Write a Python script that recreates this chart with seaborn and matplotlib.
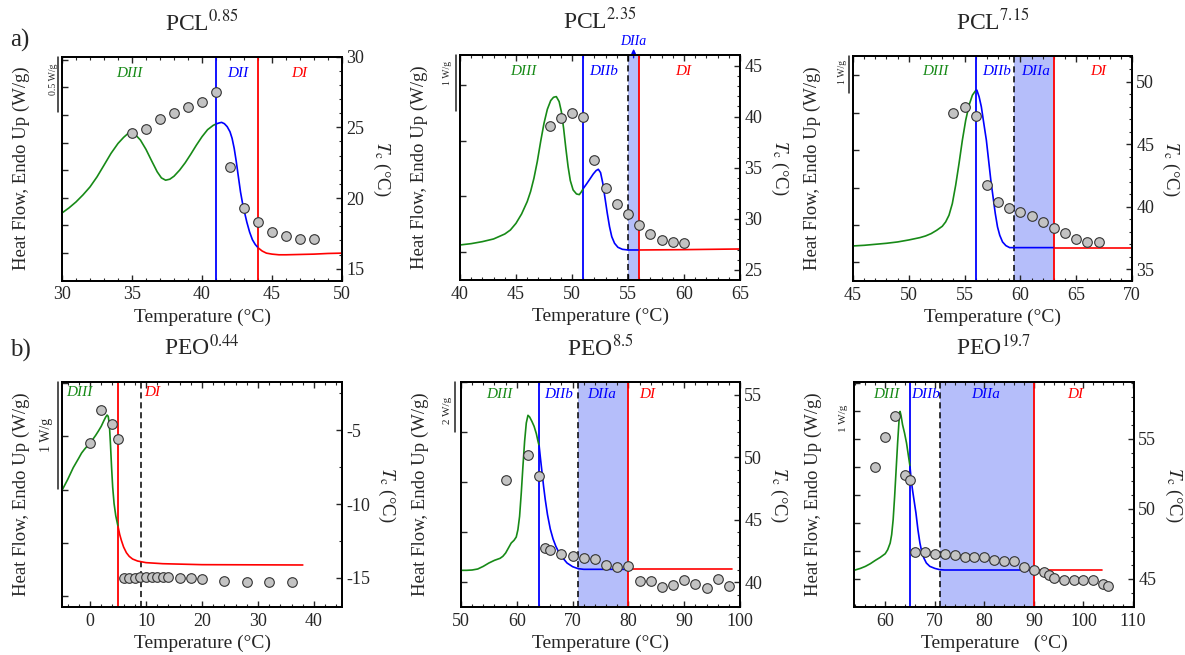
import numpy as np
import seaborn as sns
import matplotlib.pyplot as plt
from matplotlib.ticker import MultipleLocator
from matplotlib.transforms import blended_transform_factory

GREEN = '#178a17'
BLUE = '#0000ff'
RED = '#ff0000'
SHADE = '#b5befa'

# ---------------- data ----------------
# PCL 0.85
pcl085_t = [30, 30.5, 31, 31.5, 32, 32.5, 33, 33.5, 34, 34.4, 34.8, 35.2, 35.6, 36.0, 36.4, 36.8, 37.1,
            37.4, 37.7, 38.0, 38.4, 38.8, 39.2, 39.6, 40.0, 40.4, 40.8, 41.0, 41.2, 41.4, 41.6, 41.8,
            42.0, 42.15, 42.3, 42.45, 42.6, 42.75, 42.9, 43.05, 43.2, 43.4, 43.6, 43.8, 44.0, 44.3,
            44.6, 45.0, 45.5, 46, 47, 48, 49, 50]
pcl085_hf = [0.612, 0.658, 0.712, 0.776, 0.848, 0.939, 1.045, 1.152, 1.242, 1.297, 1.342, 1.327, 1.273,
             1.188, 1.085, 0.985, 0.930, 0.909, 0.918, 0.945, 1.0, 1.067, 1.145, 1.227, 1.303, 1.367,
             1.406, 1.418, 1.427, 1.433, 1.421, 1.394, 1.348, 1.288, 1.197, 1.076, 0.939, 0.803, 0.697,
             0.612, 0.530, 0.439, 0.370, 0.327, 0.297, 0.267, 0.248, 0.239, 0.233, 0.233, 0.236, 0.239,
             0.245, 0.248]
pcl085_tc_t = [35, 36, 37, 38, 39, 40, 41, 42, 43, 44, 45, 46, 47, 48]
pcl085_tc = [24.57, 24.87, 25.58, 25.98, 26.46, 26.79, 27.47, 22.2, 19.3, 18.3, 17.6, 17.3, 17.1, 17.1]
pcl085_bounds = [41, 44]

# PCL 2.35
pcl235_t = [40, 41, 42, 43, 44, 44.5, 45, 45.5, 46, 46.3, 46.6, 46.9, 47.2, 47.5, 47.8, 48.1, 48.35,
            48.6, 48.85, 49.05, 49.25, 49.45, 49.65, 49.85, 50.1, 50.4, 50.65, 50.85, 51, 51.3, 51.6,
            51.9, 52.15, 52.35, 52.55, 52.75, 52.95, 53.15, 53.35, 53.55, 53.8, 54.1, 54.5, 55, 56, 60, 65]
pcl235_hf = [0.629, 0.653, 0.689, 0.737, 0.826, 0.898, 1.018, 1.186, 1.407, 1.587, 1.826, 2.126, 2.485,
             2.814, 3.066, 3.222, 3.281, 3.293, 3.204, 3.024, 2.725, 2.365, 2.036, 1.784, 1.617, 1.545,
             1.533, 1.587, 1.641, 1.725, 1.814, 1.904, 1.964, 1.988, 1.928, 1.737, 1.467, 1.198, 0.958,
             0.778, 0.659, 0.587, 0.551, 0.539, 0.539, 0.545, 0.557]
pcl235_tc_t = [48, 49, 50, 51, 52, 53, 54, 55, 56, 57, 58, 59, 60]
pcl235_tc = [39.13, 39.85, 40.33, 39.94, 35.77, 33.03, 31.46, 30.45, 29.44, 28.56, 27.9, 27.74, 27.67]
pcl235_bounds = [51, 56]
pcl235_dashed = 55

# PCL 7.15
pcl715_t = [45, 46, 47, 48, 49, 50, 51, 51.5, 52, 52.5, 53, 53.3, 53.6, 53.9, 54.2, 54.5, 54.8, 55.1,
            55.4, 55.7, 56, 56.1, 56.3, 56.5, 56.7, 56.95, 57.15, 57.35, 57.55, 57.75, 57.95, 58.15,
            58.4, 58.7, 59.04, 60, 63, 70]
pcl715_hf = [0.938, 0.955, 0.982, 1.009, 1.045, 1.098, 1.161, 1.205, 1.268, 1.357, 1.464, 1.580, 1.759,
             2.071, 2.563, 3.143, 3.768, 4.304, 4.705, 4.973, 5.098, 5.107, 4.929, 4.661, 4.259, 3.768,
             3.232, 2.696, 2.25, 1.804, 1.446, 1.223, 1.045, 0.946, 0.893, 0.893, 0.893, 0.893]
pcl715_tc_t = [54, 55, 56, 57, 58, 59, 60, 61, 62, 63, 64, 65, 66, 67]
pcl715_tc = [47.52, 47.94, 47.25, 41.73, 40.39, 39.94, 39.59, 39.24, 38.82, 38.34, 37.91, 37.43, 37.22, 37.22]
pcl715_bounds = [56, 63]
pcl715_dashed = 59.45

# PEO 0.44
peo044_t = [-5, -4, -3, -2, -1.5, -1, -0.5, 0, 0.5, 1, 1.5, 2, 2.5, 2.8, 3.05, 3.25, 3.45, 3.65, 3.85,
            4.05, 4.3, 4.6, 5, 5.3, 5.6, 6, 6.5, 7, 7.6, 8.5, 10, 13, 20, 38]
peo044_hf = [1.094, 1.194, 1.306, 1.397, 1.444, 1.478, 1.509, 1.541, 1.572, 1.609, 1.65, 1.694, 1.75,
             1.781, 1.8, 1.788, 1.719, 1.531, 1.313, 1.125, 0.969, 0.856, 0.756, 0.681, 0.625, 0.5625,
             0.509, 0.475, 0.45, 0.431, 0.416, 0.406, 0.397, 0.394]
peo044_tc_t = [0, 2, 4, 5, 6, 7, 8, 9, 10, 11, 12, 13, 14, 16, 18, 20, 24, 28, 32, 36]
peo044_tc = [-5.84, -3.6, -4.55, -5.61, -15.0, -15.0, -15.0, -14.98, -14.95, -14.95, -14.95, -14.95,
             -14.95, -15.0, -15.05, -15.1, -15.2, -15.3, -15.3, -15.3]
peo044_bounds = [5]
peo044_dashed = 9.1

# PEO 8.5
peo85_t = [50, 51, 52, 53, 54, 55, 56, 57, 57.5, 58, 58.5, 59, 59.5, 59.9, 60.2, 60.5, 60.8, 61.1, 61.4,
           61.7, 62, 62.3, 62.7, 63.1, 63.5, 63.8, 64, 64.2, 64.5, 64.8, 65.1, 65.5, 66, 66.5, 67, 67.5,
           68, 69, 70, 71, 72, 80, 98.6]
peo85_hf = [0.467, 0.467, 0.48, 0.52, 0.627, 0.76, 0.867, 0.947, 1.027, 1.16, 1.36, 1.56, 1.667, 1.8,
            2.093, 2.627, 3.56, 4.627, 5.627, 6.36, 6.667, 6.6, 6.427, 6.227, 5.933, 5.627, 5.453, 5.027,
            4.427, 3.827, 3.293, 2.693, 2.12, 1.72, 1.427, 1.2, 1.027, 0.76, 0.613, 0.533, 0.507, 0.507,
            0.507]
peo85_tc_t = [58, 62, 64, 65, 66, 68, 70, 72, 74, 76, 78, 80, 82, 84, 86, 88, 90, 92, 94, 96, 98]
peo85_tc = [48.19, 50.17, 48.46, 42.72, 42.54, 42.24, 42.11, 41.95, 41.84, 41.39, 41.2, 41.28, 40.08,
            40.08, 39.57, 39.79, 40.19, 39.87, 39.52, 40.24, 39.71]
peo85_bounds = [64, 80]
peo85_dashed = 71

# PEO 19.7
peo197_t = [53.7, 55, 56, 57, 58, 59, 60, 60.5, 61, 61.3, 61.6, 61.9, 62.2, 62.5, 62.8, 63.0, 63.2, 63.5,
            63.9, 64.3, 64.7, 65, 65.2, 65.5, 65.8, 66.2, 66.6, 67, 67.4, 67.8, 68.3, 69, 70, 71, 72, 90,
            103.8]
peo197_hf = [0.155, 0.190, 0.226, 0.274, 0.333, 0.387, 0.452, 0.524, 0.643, 0.792, 1.06, 1.476, 1.952,
             2.429, 2.845, 2.994, 2.917, 2.756, 2.607, 2.429, 2.19, 2.012, 1.804, 1.595, 1.417, 1.179,
             0.881, 0.643, 0.476, 0.375, 0.286, 0.226, 0.19, 0.167, 0.161, 0.161, 0.161]
peo197_tc_t = [58, 60, 62, 64, 65, 66, 68, 70, 72, 74, 76, 78, 80, 82, 84, 86, 88, 90, 92, 93, 94, 96,
               98, 100, 102, 104, 105]
peo197_tc = [52.98, 55.1, 56.59, 52.39, 52.03, 46.9, 46.92, 46.8, 46.76, 46.71, 46.57, 46.57, 46.54,
             46.38, 46.28, 46.31, 45.86, 45.67, 45.48, 45.31, 45.1, 44.95, 44.95, 44.95, 44.95, 44.67, 44.48]
peo197_bounds = [65, 90]
peo197_dashed = 71

W, H = 1185, 655


def px_rect(l, t, r, b):
    return [l / W, 1 - b / H, (r - l) / W, (b - t) / H]


panels = [
    dict(title='PCL$^{0.85}$', rect=px_rect(62, 56.5, 342, 280.5), t=pcl085_t, hf=pcl085_hf,
         tc_t=pcl085_tc_t, tc=pcl085_tc, bounds=pcl085_bounds, colors=[GREEN, BLUE, RED],
         dashed=None, shade=None, xlim=(30, 50), xmaj=5, xmin=1,
         hflim=(0, 2.03), hfticks=(0.25, 0.25), tclim=(14.17, 30), tcmin=1,
         bar=(-0.014, 0.5, '0.5 W/g', -0.029, 0.90, 7),
         labels=[('DIII', 34.8, GREEN), ('DII', 42.56, BLUE), ('DI', 46.97, RED)], label_y=0.925),
    dict(title='PCL$^{2.35}$', rect=px_rect(460, 55, 740, 280), t=pcl235_t, hf=pcl235_hf,
         tc_t=pcl235_tc_t, tc=pcl235_tc, bounds=pcl235_bounds, colors=[GREEN, BLUE, RED],
         dashed=pcl235_dashed, shade=(pcl235_dashed, pcl235_bounds[1]), xlim=(40, 65), xmaj=5, xmin=1,
         hflim=(0, 4.04), hfticks=(0.5, 1), tclim=(24.02, 46.04), tcmin=1,
         bar=(-0.015, 1, '1 W/g', -0.043, 0.92, 7),
         labels=[('DIII', 45.65, GREEN), ('DIIb', 52.86, BLUE), ('DI', 59.94, RED)], label_y=0.926),
    dict(title='PCL$^{7.15}$', rect=px_rect(853, 56, 1132, 281), t=pcl715_t, hf=pcl715_hf,
         tc_t=pcl715_tc_t, tc=pcl715_tc, bounds=pcl715_bounds, colors=[GREEN, BLUE, RED],
         dashed=pcl715_dashed, shade=(pcl715_dashed, pcl715_bounds[1]), xlim=(45, 70), xmaj=5, xmin=1,
         hflim=(0, 6.02), hfticks=(0.5, 1), tclim=(34.07, 52.05), tcmin=1,
         bar=(-0.014, 1, '1 W/g', -0.039, 0.93, 7),
         labels=[('DIII', 52.4, GREEN), ('DIIb', 57.85, BLUE), ('DIIa', 61.4, BLUE), ('DI', 66.95, RED)],
         label_y=0.93),
    dict(title='PEO$^{0.44}$', rect=px_rect(62, 382, 342, 607), t=peo044_t, hf=peo044_hf,
         tc_t=peo044_tc_t, tc=peo044_tc, bounds=peo044_bounds, colors=[GREEN, RED],
         dashed=peo044_dashed, shade=None, xlim=(-5, 45), xmaj=10, xmin=2,
         hflim=(0, 2.11), hfticks=(0.1, 0.5), tclim=(-16.99, -1.72), tcmin=2.5,
         bar=(-0.014, 1, '1 W/g', -0.054, 0.764, 10), tclabel_x=1.16,
         labels=[('DIII', -1.9, GREEN), ('DI', 11.07, RED)], label_y=0.955),
    dict(title='PEO$^{8.5}$', rect=px_rect(461, 382, 740, 607), t=peo85_t, hf=peo85_hf,
         tc_t=peo85_tc_t, tc=peo85_tc, bounds=peo85_bounds, colors=[GREEN, BLUE, RED],
         dashed=peo85_dashed, shade=(peo85_dashed, peo85_bounds[1]), xlim=(50, 100), xmaj=10, xmin=2,
         hflim=(-1.0, 8.0), hfticks=(0, 2), tclim=(38.0, 56.01), tcmin=1,
         bar=(-0.022, 2, '2 W/g', -0.047, 0.876, 8),
         labels=[('DIII', 56.9, GREEN), ('DIIb', 67.5, BLUE), ('DIIa', 75.2, BLUE), ('DI', 83.3, RED)],
         label_y=0.944),
    dict(title='PEO$^{19.7}$', rect=px_rect(854, 382, 1134, 607), t=peo197_t, hf=peo197_hf,
         tc_t=peo197_tc_t, tc=peo197_tc, bounds=peo197_bounds, colors=[GREEN, BLUE, RED],
         dashed=peo197_dashed, shade=(peo197_dashed, peo197_bounds[1]), xlim=(53.7, 110.2), xmaj=10, xmin=2,
         hflim=(-0.5, 3.52), hfticks=(0, 0.5), tclim=(43.0, 59.04), tcmin=1,
         bar=(None, None, '1 W/g', -0.039, 0.84, 8), xlabel='Temperature   (°C)',
         labels=[('DIII', 60.3, GREEN), ('DIIb', 68.1, BLUE), ('DIIa', 80.2, BLUE), ('DI', 98.4, RED)],
         label_y=0.944),
]


def segments(t, hf, bounds):
    t = np.asarray(t, float)
    hf = np.asarray(hf, float)
    edges = [-np.inf] + list(bounds) + [np.inf]
    out = []
    for lo, hi in zip(edges[:-1], edges[1:]):
        m = (t >= lo) & (t <= hi)
        out.append((t[m], hf[m]))
    return out


def draw_panel(fig, p):
    ax = fig.add_axes(p['rect'])
    ax2 = ax.twinx()

    if p['shade'] is not None:
        ax.axvspan(p['shade'][0], p['shade'][1], color=SHADE, lw=0, zorder=0)
    for (xs, ys), c in zip(segments(p['t'], p['hf'], p['bounds']), p['colors']):
        sns.lineplot(x=xs, y=ys, ax=ax, color=c, lw=1.2, estimator=None, sort=False, zorder=3)
    for b, c in zip(p['bounds'], p['colors'][1:]):
        ax.axvline(b, color=c, lw=1.3, zorder=2)
    if p['dashed'] is not None:
        ax.axvline(p['dashed'], color='k', lw=1.1, ls=(0, (4, 2.5)), zorder=2)

    sns.scatterplot(x=p['tc_t'], y=p['tc'], ax=ax2, s=48, color='#c3c3c3',
                    edgecolor='#333333', linewidth=0.8, zorder=5)

    ax.set_xlim(*p['xlim'])
    ax.set_ylim(*p['hflim'])
    ax2.set_ylim(*p['tclim'])

    ax.xaxis.set_major_locator(MultipleLocator(p['xmaj']))
    ax.xaxis.set_minor_locator(MultipleLocator(p['xmin']))
    start, step = p['hfticks']
    ax.set_yticks(np.arange(start, p['hflim'][1] + 1e-6, step))
    ax.set_yticklabels([])
    ax2.yaxis.set_major_locator(MultipleLocator(5))
    ax2.yaxis.set_minor_locator(MultipleLocator(p['tcmin']))

    ax.tick_params(axis='x', which='both', direction='in', top=True, bottom=True, labelsize=13, pad=4)
    ax.tick_params(axis='x', which='major', length=4, width=1)
    ax.tick_params(axis='x', which='minor', length=2, width=0.8)
    ax.tick_params(axis='y', which='both', direction='in', left=True, right=False, length=4, width=1)
    ax2.tick_params(axis='y', which='both', direction='in', right=True, left=False, labelsize=13, pad=3)
    ax2.tick_params(axis='y', which='major', length=4, width=1)
    ax2.tick_params(axis='y', which='minor', length=2, width=0.8)

    for a in (ax, ax2):
        for s in a.spines.values():
            s.set_linewidth(1.3)
            s.set_color('black')

    ax.set_xlabel(p.get('xlabel', 'Temperature (°C)'), fontsize=14, labelpad=4)
    ax.set_ylabel('Heat Flow, Endo Up (W/g)', fontsize=13.5)
    ax.yaxis.set_label_coords(-0.115, 0.5)
    ax2.set_ylabel(r'$T_\mathrm{c}$ (°C)', fontsize=13.5, rotation=270, va='center')
    ax2.yaxis.set_label_coords(p.get('tclabel_x', 1.14), 0.5)
    ax.set_title(p['title'], fontsize=17, pad=19)

    for name, x, c in p['labels']:
        ax.text(x, p['label_y'], name, color=c, fontsize=11, style='italic', ha='center', va='center',
                transform=blended_transform_factory(ax.transData, ax.transAxes))

    bx, blen, btxt, tx, ty, tsize = p['bar']
    if bx is not None:
        top = p['hflim'][1]
        ax.plot([bx, bx], [top, top - blen], color='#222222', lw=1.1, clip_on=False,
                transform=blended_transform_factory(ax.transAxes, ax.transData))
    ax.text(tx, ty, btxt, rotation=90, fontsize=tsize, ha='center', va='center',
            transform=ax.transAxes)
    return ax, ax2


sns.set_style("ticks")
plt.rcParams['font.family'] = ['Liberation Serif', 'DejaVu Serif']
plt.rcParams['mathtext.fontset'] = 'stix'
plt.rcParams['axes.unicode_minus'] = False

fig = plt.figure(figsize=(W / 100, H / 100), dpi=100)
axes = [draw_panel(fig, p) for p in panels]

# DIIa pointer above the PCL 2.35 panel
ax_b = axes[1][0]
ax_b.annotate('', xy=(55.5, 1.04), xytext=(55.5, 0.975),
              xycoords=('data', 'axes fraction'), textcoords=('data', 'axes fraction'),
              arrowprops=dict(arrowstyle='-|>', color=BLUE, lw=1, mutation_scale=6))
ax_b.text(55.5, 1.062, 'DIIa', color=BLUE, fontsize=10, style='italic', ha='center', va='center',
          transform=blended_transform_factory(ax_b.transData, ax_b.transAxes))

fig.text(20 / W, 1 - 40 / H, 'a)', fontsize=18, ha='center', va='center')
fig.text(20 / W, 1 - 350 / H, 'b)', fontsize=18, ha='center', va='center')

fig.savefig('out.png', dpi=100)
